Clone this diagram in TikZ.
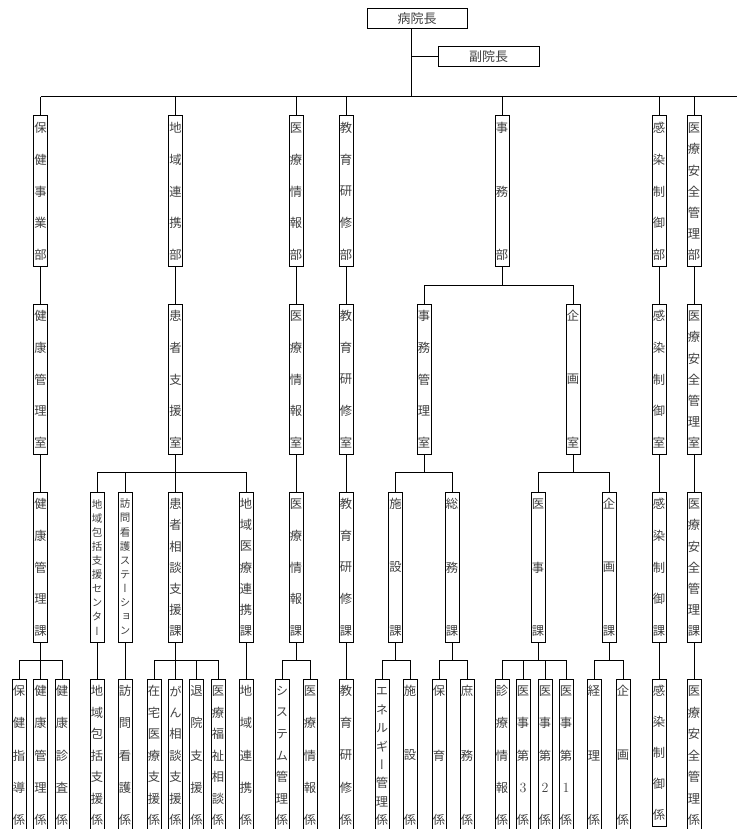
\documentclass[tikz,border=0pt]{standalone}
\usepackage{fontspec}
\newfontfamily\jp[RawFeature=+vert]{Noto Sans CJK JP}
\newfontfamily\jph{Noto Sans CJK JP}
\newcommand{\dg}[1]{{\rmfamily\fontsize{14}{14}\selectfont #1}}
\tikzset{
  ln/.style={line width=1pt, line join=miter},
  vbox/.style={draw, line width=1pt, minimum width=14pt, inner sep=0pt},
  hbox/.style={draw, line width=1pt, minimum width=100pt, minimum height=20pt, inner sep=0pt, font=\jph\fontsize{13}{13}\selectfont, text=black!75},
  ch/.style={font=\jp\fontsize{12.3}{12.5}\selectfont, text=black!75, inner sep=0pt},
  sm/.style={font=\jp\fontsize{10.5}{10.5}\selectfont},
}
% \vb[style]{name}{x}{ytop}{ybot}{n}{chars}
\newcommand{\vb}[7][]{%
  \node[vbox, minimum height={#5-#4}] (#2) at (#3,{(#4+#5)/2}) {};
  \foreach \c [count=\i] in {#7} {\node[ch,#1] at (#3,{#4+12+(\i-1)*(#5-#4-23)/(#6-1)}) {\c};}
}
% \tree{parent}{buscoord}{first}{last}{children}
\newcommand{\tree}[5]{%
  \draw[ln] (#1.south) -- (#1.south |- #2);
  \draw[ln] (#3.north) -- (#3.north |- #2) -- (#4.north |- #2) -- (#4.north);
  \foreach \k in {#5} {\draw[ln] (\k.north) -- (\k.north |- #2);}
}
\begin{document}
\begin{tikzpicture}[x=1pt,y=-1pt]
\useasboundingbox (0,0) rectangle (737,829);
\fill[white] (0,0) rectangle (737,829);
% top
\node[hbox] (hosp) at (417,19) {病院長};
\node[hbox, minimum width=101pt] (vice) at (488.5,57) {副院長};
\coordinate (trunk) at (411,29);
\coordinate (busR) at (737,97);
\coordinate (y285) at (0,285);
\coordinate (y472) at (0,472);
\coordinate (y660) at (0,660);
% level 1
\vb{d1}{40.5}{116}{266}{5}{保,健,事,業,部}
\vb{d2}{175.5}{116}{266}{5}{地,域,連,携,部}
\vb{d3}{296}{116}{266}{5}{医,療,情,報,部}
\vb{d4}{346}{116}{266}{5}{教,育,研,修,部}
\vb{d5}{502}{116}{266}{3}{事,務,部}
\vb{d6}{659}{116}{266}{5}{感,染,制,御,部}
\vb{d7}{694}{116}{266}{7}{医,療,安,全,管,理,部}
% level 2
\vb{r1}{40.5}{304}{454}{5}{健,康,管,理,室}
\vb{r2}{175.5}{304}{454}{5}{患,者,支,援,室}
\vb{r3}{296}{304}{454}{5}{医,療,情,報,室}
\vb{r4}{346}{304}{454}{5}{教,育,研,修,室}
\vb{r5}{424}{304}{454}{5}{事,務,管,理,室}
\vb{r6}{573}{304}{454}{3}{企,画,室}
\vb{r7}{659}{304}{454}{5}{感,染,制,御,室}
\vb{r8}{694}{304}{454}{7}{医,療,安,全,管,理,室}
% level 3
\vb{k1}{40.5}{492}{642}{5}{健,康,管,理,課}
\vb[sm]{k2}{97}{492}{642}{10}{地,域,包,括,支,援,セ,ン,タ,ー}
\vb[sm]{k3}{125}{492}{642}{10}{訪,問,看,護,ス,テ,ー,シ,ョ,ン}
\vb{k4}{175.5}{492}{642}{7}{患,者,相,談,支,援,課}
\vb{k5}{246}{492}{642}{7}{地,域,医,療,連,携,課}
\vb{k6}{296}{492}{642}{5}{医,療,情,報,課}
\vb{k7}{346}{492}{642}{5}{教,育,研,修,課}
\vb{k8}{395.5}{492}{642}{3}{施,設,課}
\vb{k9}{452}{492}{642}{3}{総,務,課}
\vb{k10}{538}{492}{642}{3}{医,事,課}
\vb{k11}{609}{492}{642}{3}{企,画,課}
\vb{k12}{659}{492}{642}{5}{感,染,制,御,課}
\vb{k13}{694}{492}{642}{7}{医,療,安,全,管,理,課}
% level 4
\vb{g1}{19}{679}{831}{5}{保,健,指,導,係}
\vb{g2}{40.5}{679}{831}{5}{健,康,管,理,係}
\vb{g3}{62}{679}{831}{5}{健,康,診,査,係}
\vb{g4}{97}{679}{831}{7}{地,域,包,括,支,援,係}
\vb{g5}{125}{679}{831}{5}{訪,問,看,護,係}
\vb{g6}{154}{679}{831}{7}{在,宅,医,療,支,援,係}
\vb{g7}{175.5}{679}{831}{7}{が,ん,相,談,支,援,係}
\vb{g8}{196.5}{679}{831}{5}{退,院,支,援,係}
\vb{g9}{218}{679}{831}{7}{医,療,福,祉,相,談,係}
\vb{g10}{246}{679}{831}{5}{地,域,連,携,係}
\vb{g11}{282}{679}{831}{7}{シ,ス,テ,ム,管,理,係}
\vb{g12}{310}{679}{831}{5}{医,療,情,報,係}
\vb{g13}{346}{679}{831}{5}{教,育,研,修,係}
\vb{g14}{382}{679}{831}{8}{エ,ネ,ル,ギ,ー,管,理,係}
\vb{g15}{410}{679}{831}{3}{施,設,係}
\vb{g16}{439}{679}{831}{3}{保,育,係}
\vb{g17}{467}{679}{831}{3}{庶,務,係}
\vb{g18}{502}{679}{831}{5}{診,療,情,報,係}
\vb{g19}{523}{679}{831}{5}{医,事,第,\dg{3},係}
\vb{g20}{545}{679}{831}{5}{医,事,第,\dg{2},係}
\vb{g21}{566}{679}{831}{5}{医,事,第,\dg{1},係}
\vb{g22}{594}{679}{831}{3}{経,理,係}
\vb{g23}{623}{679}{831}{3}{企,画,係}
\vb{g24}{659}{679}{826}{5}{感,染,制,御,係}
\vb{g25}{694}{679}{831}{7}{医,療,安,全,管,理,係}
% connectors: top
\draw[ln] (trunk) -- (trunk |- busR);
\draw[ln] (trunk |- vice) -- (vice.west);
\draw[ln] (d1.north |- busR) -- (busR);
\foreach \d in {d1,d2,d3,d4,d5,d6,d7} {\draw[ln] (\d.north) -- (\d.north |- busR);}
% level 1 -> 2
\draw[ln] (d1.south) -- (r1.north);
\draw[ln] (d2.south) -- (r2.north);
\draw[ln] (d3.south) -- (r3.north);
\draw[ln] (d4.south) -- (r4.north);
\tree{d5}{y285}{r5}{r6}{r5,r6}
\draw[ln] (d6.south) -- (r7.north);
\draw[ln] (d7.south) -- (r8.north);
% level 2 -> 3
\draw[ln] (r1.south) -- (k1.north);
\tree{r2}{y472}{k2}{k5}{k3,k4}
\draw[ln] (r3.south) -- (k6.north);
\draw[ln] (r4.south) -- (k7.north);
\tree{r5}{y472}{k8}{k9}{k8}
\tree{r6}{y472}{k10}{k11}{k10}
\draw[ln] (r7.south) -- (k12.north);
\draw[ln] (r8.south) -- (k13.north);
% level 3 -> 4
\tree{k1}{y660}{g1}{g3}{g2}
\draw[ln] (k2.south) -- (g4.north);
\draw[ln] (k3.south) -- (g5.north);
\tree{k4}{y660}{g6}{g9}{g7,g8}
\draw[ln] (k5.south) -- (g10.north);
\tree{k6}{y660}{g11}{g12}{g11}
\draw[ln] (k7.south) -- (g13.north);
\tree{k8}{y660}{g14}{g15}{g14}
\tree{k9}{y660}{g16}{g17}{g16}
\tree{k10}{y660}{g18}{g21}{g19,g20}
\tree{k11}{y660}{g22}{g23}{g22}
\draw[ln] (k12.south) -- (g24.north);
\draw[ln] (k13.south) -- (g25.north);
\end{tikzpicture}
\end{document}
